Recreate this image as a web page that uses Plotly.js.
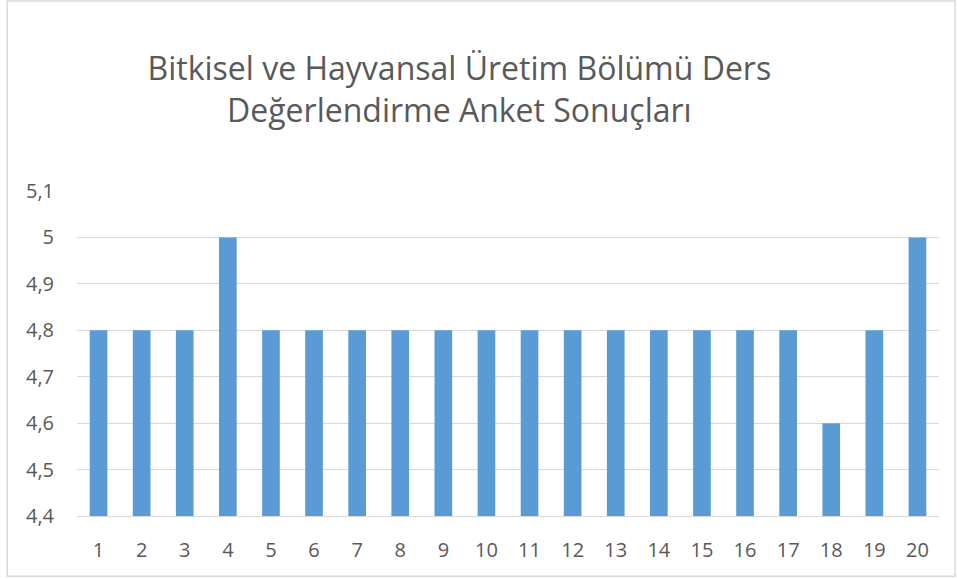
<!DOCTYPE html>
<html><head><meta charset="utf-8">
<script src="https://cdn.plot.ly/plotly-3.0.1.min.js"></script>
<style>html,body{margin:0;padding:0;background:#fff}#c{width:957px;height:579px}</style>
</head><body><div id="c"></div>
<script>
const categories = ["1","2","3","4","5","6","7","8","9","10","11","12","13","14","15","16","17","18","19","20"];
const values = [4.8,4.8,4.8,5.0,4.8,4.8,4.8,4.8,4.8,4.8,4.8,4.8,4.8,4.8,4.8,4.8,4.8,4.6,4.8,5.0];
const yTicks = [4.4,4.5,4.6,4.7,4.8,4.9,5.0,5.1];
const yTickText = ["4,4","4,5","4,6","4,7","4,8","4,9","5","5,1"];
const titleText = "Bitkisel ve Hayvansal Üretim Bölümü Ders<br>Değerlendirme Anket Sonuçları";

Plotly.newPlot("c", [{
  type: "bar", x: categories, y: values,
  marker: {color: "#5B9BD5"}, hoverinfo: "x+y"
}], {
  width: 957, height: 579,
  margin: {l: 77, r: 18, t: 191, b: 63},
  paper_bgcolor: "#fff", plot_bgcolor: "#fff",
  font: {family: "Open Sans, sans-serif", color: "#595959", size: 16},
  separators: ",.",
  bargap: 0.59,
  title: {text: titleText, x: 0.48, xanchor: "center", y: 0.862, yanchor: "top",
    font: {size: 32, color: "#595959", family: "Open Sans, sans-serif"}},
  xaxis: {type: "category", showgrid: false, zeroline: false, showline: true,
    linecolor: "#d9d9d9", linewidth: 1, ticks: "", ticklabelstandoff: 16,
    tickfont: {size: 20, color: "#595959"}},
  yaxis: {range: [4.4, 5.1], tickvals: yTicks, ticktext: yTickText, showgrid: true,
    gridcolor: "#d9d9d9", zeroline: false, showline: false, ticks: "",
    ticklabelstandoff: 22, tickfont: {size: 20, color: "#595959"}},
  shapes: [{type: "rect", xref: "paper", yref: "paper", x0: -0.081, x1: 1.0186, y0: -0.185, y1: 1.585,
    line: {color: "#d9d9d9", width: 1.5}, layer: "below"}],
  showlegend: false
}, {displayModeBar: false, staticPlot: true});
</script></body></html>
